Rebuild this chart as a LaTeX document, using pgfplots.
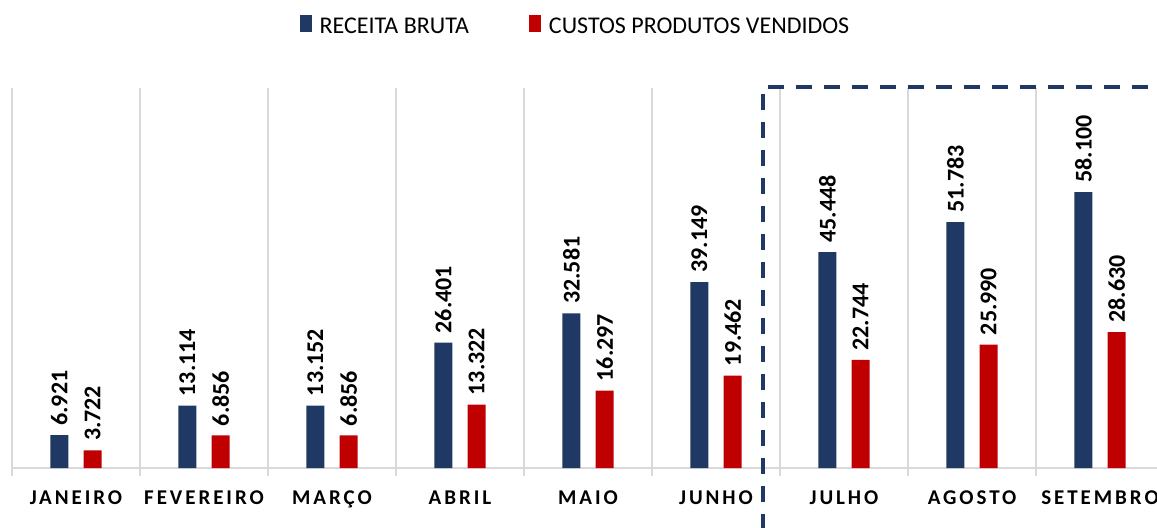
\documentclass[border=0pt]{standalone}
\usepackage{pgfplots}
\pgfplotsset{compat=1.18}
\usepackage{graphicx}
\usepackage{fontspec}
\setmainfont{Carlito}
\newfontfamily\tickfont[LetterSpace=14]{Carlito}
\definecolor{azul}{HTML}{203864}
\definecolor{vermelho}{HTML}{C00000}
\definecolor{grade}{HTML}{D9D9D9}
\pgfplotsset{sq legend/.style={legend image code/.code={\fill[##1] (0pt,-2.5pt) rectangle (6pt,6pt);}}}

\begin{document}
\begin{tikzpicture}
\begin{axis}[
  at={(0,0)}, anchor=south west,
  scale only axis, width=572.5pt, height=190pt,
  xmin=-0.5, xmax=8.445, ymin=0, ymax=80000,
  axis x line*=bottom, axis y line=none,
  x axis line style={grade, line width=1pt, -},
  xtick={0,...,8},
  xticklabels={JANEIRO,FEVEREIRO,MARÇO,ABRIL,MAIO,JUNHO,JULHO,AGOSTO,SETEMBRO},
  major tick length=0pt,
  minor xtick={-0.5,0.5,...,7.5},
  minor tick length=4pt, tick align=outside,
  minor tick style={grade, line width=0.75pt},
  xminorgrids, minor grid style={grade, line width=0.75pt},
  ytick=\empty,
  xticklabel style={font=\tickfont\bfseries\fontsize{10.5}{12}\selectfont, anchor=base, yshift=-18pt},
  clip=false,
  nodes near coords={\rotatebox{90}{\pgfmathprintnumber[fixed, precision=0, 1000 sep={.}, assume math mode=true]{\pgfplotspointmeta}}},
  every node near coord/.append style={anchor=south, font=\bfseries\fontsize{12}{14}\selectfont, inner xsep=0pt, inner ysep=0pt, yshift=4.5pt, black},
  legend columns=2,
  legend style={at={(0.493,1)}, anchor=center, yshift=30.5pt, draw=none,
    font=\fontsize{12}{14}\selectfont,
    /tikz/every odd column/.append style={column sep=2pt},
    /tikz/every even column/.append style={column sep=28pt}},
]
% barras deslocadas +-0.13 em torno de cada mes
\addplot[ybar, bar width=0.14, bar shift=0, fill=azul, draw=none, sq legend]
  coordinates {(-0.13,6921) (0.87,13114) (1.87,13152) (2.87,26401) (3.87,32581)
               (4.87,39149) (5.87,45448) (6.87,51783) (7.87,58100)};
\addlegendentry{RECEITA BRUTA}
\addplot[ybar, bar width=0.14, bar shift=0, fill=vermelho, draw=none, sq legend]
  coordinates {(0.13,3722) (1.13,6856) (2.13,6856) (3.13,13322) (4.13,16297)
               (5.13,19462) (6.13,22744) (7.13,25990) (8.13,28630)};
\addlegendentry{CUSTOS PRODUTOS VENDIDOS}
\draw[azul, line width=2pt, dash pattern=on 8pt off 6pt]
  (axis cs:5.367,-13000) -- (axis cs:5.367,80200) -- (axis cs:8.6,80200);
\end{axis}
\pgfresetboundingbox
\path[use as bounding box] (-6pt,-29.5pt) rectangle (572.5pt,234pt);
\end{tikzpicture}
\end{document}
